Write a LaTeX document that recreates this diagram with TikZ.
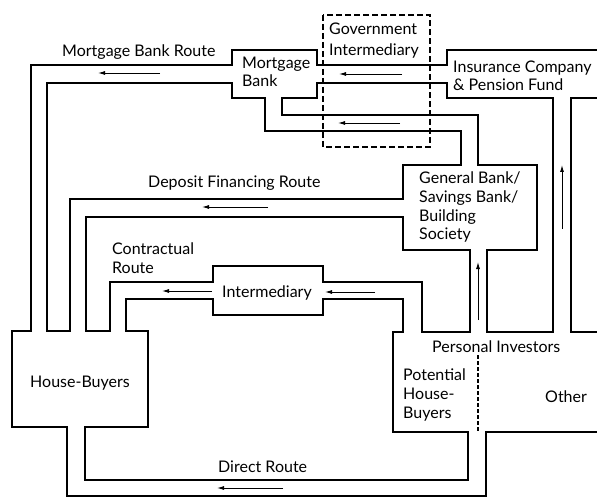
\documentclass[tikz,border=0pt]{standalone}
\usepackage{fontspec}
\setmainfont{Lato}
\usetikzlibrary{arrows.meta}

\tikzset{
  pipe/.style={line width=1.6pt, line join=miter},
  flow/.style={line width=0.9pt, -{Latex[length=7pt,width=4pt]}},
  lbl/.style={anchor=base west, inner sep=0pt, align=left,
    font=\fontsize{16}{18.7}\selectfont},
}

\begin{document}
\begin{tikzpicture}[x=1pt,y=-1pt]
\useasboundingbox (0,0) rectangle (597,497);

        % outer wall
        \draw[pipe] (597,50)--(447,50)--(447,65)--(317,65)--(317,50)--(232,50)--(232,65)
          --(31,65)--(31,331)--(12,331)--(12,427)--(67,427)--(67,496)--(486,496)--(486,432)--(597,432);
        % between mortgage route and deposit route
        \draw[pipe] (47,331)--(47,83)--(232,83)--(232,98)--(265,98)--(265,131)--(461,131)
          --(461,165)--(403,165)--(403,199)--(70,199)--(70,331)--cycle;
        % between deposit route and contractual route
        \draw[pipe] (86,331)--(86,217)--(403,217)--(403,250)--(470,250)--(470,332)--(422,332)
          --(422,282)--(323,282)--(323,266)--(213,266)--(213,282)--(110,282)--(110,331)--cycle;
        % between contractual route and direct route
        \draw[pipe] (126,331)--(126,299)--(213,299)--(213,315)--(323,315)--(323,299)--(403,299)
          --(403,332)--(393,332)--(393,432)--(468,432)--(468,480)--(85,480)--(85,427)
          --(148,427)--(148,331)--cycle;
        % block in the middle
        \draw[pipe] (317,83)--(447,83)--(447,98)--(553,98)--(553,332)--(487,332)--(487,250)
          --(537,250)--(537,165)--(478,165)--(478,115)--(282,115)--(282,98)--(317,98)--cycle;
        \draw[pipe] (597,98)--(571,98)--(571,332)--(597,332);

        \draw[line width=1.6pt, dash pattern=on 6pt off 3pt] (323,15) rectangle (430,147);
        \draw[line width=1.1pt, dash pattern=on 4pt off 2pt] (478,355)--(478,432);

        \foreach \xa/\xb/\y in {160/98/73, 402/339/74, 400/338/123, 268/202/207,
                                212/162/291, 375/325/292, 283/217/488}{
          \draw[flow] (\xa,\y)--(\xb,\y);
        }
        \foreach \x/\ya/\yb in {478/320/262, 562/229/165}{
          \draw[flow] (\x,\ya)--(\x,\yb);
        }

        % multi-line labels sit on the baseline of their last line
        \node[lbl] (mbroute) at (62,57) {Mortgage Bank Route};
        \node[lbl] (mbank) at (242,87) {Mortgage\\Bank};
        \node[lbl, font=\fontsize{16}{21}\selectfont] (govint) at (329,56) {Government\\Intermediary};
        \node[lbl] (insur) at (453,91) {Insurance Company\\\& Pension Fund};
        \node[lbl] (dfroute) at (148,188) {Deposit Financing Route};
        \node[lbl] (genbank) at (419,240) {General Bank/\\Savings Bank/\\Building\\Society};
        \node[lbl] (croute) at (112,273) {Contractual\\Route};
        \node[lbl] (inter) at (222,297) {Intermediary};
        \node[lbl] (persinv) at (432,352) {Personal Investors};
        \node[lbl] (pothb) at (403,418) {Potential\\House-\\Buyers};
        \node[lbl] (other) at (545,402) {Other};
        \node[lbl] (hbuyers) at (30,387) {House-Buyers};
        \node[lbl] (droute) at (218,472) {Direct Route};
\end{tikzpicture}
\end{document}
